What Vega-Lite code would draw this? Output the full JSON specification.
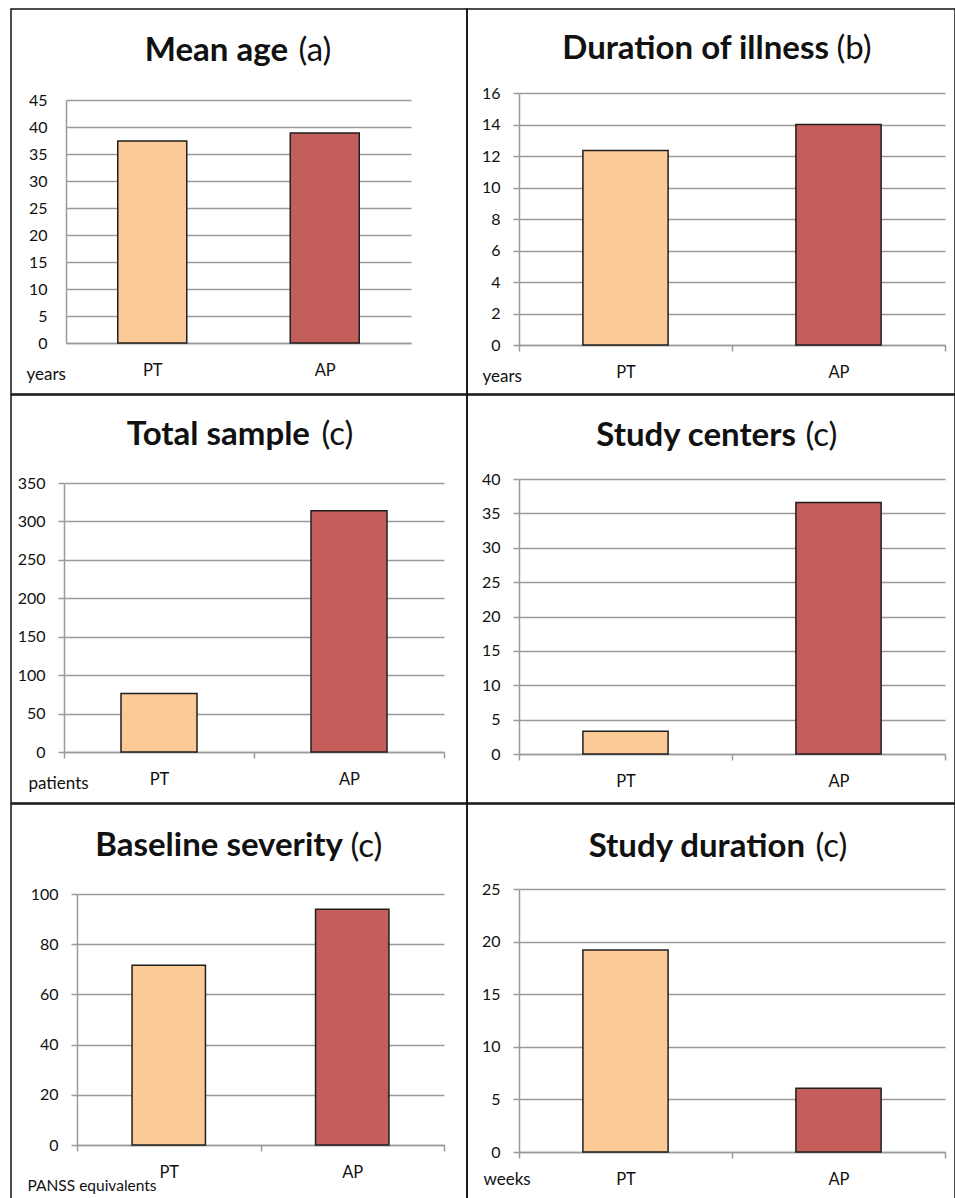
{
  "$schema": "https://vega.github.io/schema/vega-lite/v6.json",
  "padding": {"left": 10, "top": 8, "right": 0, "bottom": 0},
  "background": "white",
  "columns": 2,
  "align": "each",
  "spacing": {"row": 1, "column": 0},
  "bounds": "flush",
  "config": {
    "font": "Lato",
    "view": {"stroke": "#111", "strokeWidth": 1.5},
    "axis": {
      "domainColor": "#9a9a9a", "domainWidth": 1.5,
      "gridColor": "#9a9a9a", "gridWidth": 1.5,
      "tickColor": "#9a9a9a", "tickWidth": 1.5,
      "labelFont": "Lato", "labelFontSize": 16, "labelColor": "#111",
      "titleFont": "Lato", "titleFontSize": 17, "titleFontWeight": "normal", "titleColor": "#111",
      "titleAngle": 0, "titleAlign": "left", "titleBaseline": "alphabetic"
    },
    "axisX": {"grid": false, "tickBand": "extent", "labelAngle": 0, "tickSize": 6, "labelPadding": 13, "labelFontSize": 16.5},
    "axisY": {"grid": true, "tickSize": 6, "labelPadding": 13, "labelFontSize": 16, "titleFontSize": 33},
    "title": {"font": "Lato", "fontSize": 33, "fontWeight": "bold", "color": "#111", "anchor": "end", "frame": "group", "baseline": "top"},
    "bar": {"stroke": "#1f1f1f", "strokeWidth": 1.5}
  },
  "datasets": {
    "d": [
      {"panel": "age", "group": "PT", "value": 37.4},
      {"panel": "age", "group": "AP", "value": 38.9},
      {"panel": "illness", "group": "PT", "value": 12.35},
      {"panel": "illness", "group": "AP", "value": 14.0},
      {"panel": "sample", "group": "PT", "value": 76},
      {"panel": "sample", "group": "AP", "value": 314},
      {"panel": "centers", "group": "PT", "value": 3.3},
      {"panel": "centers", "group": "AP", "value": 36.6},
      {"panel": "severity", "group": "PT", "value": 71.6},
      {"panel": "severity", "group": "AP", "value": 93.9},
      {"panel": "duration", "group": "PT", "value": 19.2},
      {"panel": "duration", "group": "AP", "value": 6.05}
    ]
  },
  "concat": [
    {
      "width": 456, "height": 385,
      "data": {"name": "d"},
      "transform": [{"filter": "datum.panel == 'age'"}],
      "title": {"text": "Mean age", "dx": -179, "offset": -59},
      "mark": {"type": "bar", "width": {"band": 0.4}},
      "encoding": {
        "x": {"field": "group", "type": "nominal", "sort": ["PT", "AP"],
              "scale": {"range": [55, 400], "paddingInner": 0, "paddingOuter": 0},
              "axis": {"offset": -51, "tickSize": 0, "labelPadding": 19, "title": "years", "titleX": 15, "titleY": 36}},
        "y": {"field": "value", "type": "quantitative",
              "scale": {"domain": [0, 45], "range": [334, 91], "nice": false},
              "axis": {"offset": -55, "values": [0, 5, 10, 15, 20, 25, 30, 35, 40, 45], "tickSize": 0, "labelPadding": 19,
                       "title": "(a)", "titleX": 232, "titleY": 51}},
        "color": {"field": "group", "type": "nominal", "scale": {"domain": ["PT", "AP"], "range": ["#FBCA97", "#C45E5B"]}, "legend": null}
      }
    },
    {
      "width": 488, "height": 385,
      "data": {"name": "d"},
      "transform": [{"filter": "datum.panel == 'illness'"}],
      "title": {"text": "Duration of illness", "dx": -126, "offset": -57},
      "mark": {"type": "bar", "width": {"band": 0.4}},
      "encoding": {
        "x": {"field": "group", "type": "nominal", "sort": ["PT", "AP"],
              "scale": {"range": [52, 478], "paddingInner": 0, "paddingOuter": 0},
              "axis": {"offset": -49, "title": "years", "titleX": 15, "titleY": 36}},
        "y": {"field": "value", "type": "quantitative",
              "scale": {"domain": [0, 16], "range": [336, 84], "nice": false},
              "axis": {"offset": -52, "values": [0, 2, 4, 6, 8, 10, 12, 14, 16],
                       "title": "(b)", "titleX": 317, "titleY": 49}},
        "color": {"field": "group", "type": "nominal", "scale": {"domain": ["PT", "AP"], "range": ["#FBCA97", "#C45E5B"]}, "legend": null}
      }
    },
    {
      "width": 456, "height": 408,
      "data": {"name": "d"},
      "transform": [{"filter": "datum.panel == 'sample'"}],
      "title": {"text": "Total sample", "dx": -157, "offset": -57},
      "mark": {"type": "bar", "width": {"band": 0.4}},
      "encoding": {
        "x": {"field": "group", "type": "nominal", "sort": ["PT", "AP"],
              "scale": {"range": [53, 433], "paddingInner": 0, "paddingOuter": 0},
              "axis": {"offset": -51, "title": "patients", "titleX": 17, "titleY": 36}},
        "y": {"field": "value", "type": "quantitative",
              "scale": {"domain": [0, 350], "range": [357, 88], "nice": false},
              "axis": {"offset": -53, "values": [0, 50, 100, 150, 200, 250, 300, 350],
                       "title": "(c)", "titleX": 257, "titleY": 49}},
        "color": {"field": "group", "type": "nominal", "scale": {"domain": ["PT", "AP"], "range": ["#FBCA97", "#C45E5B"]}, "legend": null}
      }
    },
    {
      "width": 488, "height": 408,
      "data": {"name": "d"},
      "transform": [{"filter": "datum.panel == 'centers'"}],
      "title": {"text": "Study centers", "dx": -159, "offset": -58},
      "mark": {"type": "bar", "width": {"band": 0.4}},
      "encoding": {
        "x": {"field": "group", "type": "nominal", "sort": ["PT", "AP"],
              "scale": {"range": [52, 478], "paddingInner": 0, "paddingOuter": 0},
              "axis": {"offset": -49, "title": null}},
        "y": {"field": "value", "type": "quantitative",
              "scale": {"domain": [0, 40], "range": [359, 84], "nice": false},
              "axis": {"offset": -52, "values": [0, 5, 10, 15, 20, 25, 30, 35, 40],
                       "title": "(c)", "titleX": 286, "titleY": 50}},
        "color": {"field": "group", "type": "nominal", "scale": {"domain": ["PT", "AP"], "range": ["#FBCA97", "#C45E5B"]}, "legend": null}
      }
    },
    {
      "width": 456, "height": 400,
      "data": {"name": "d"},
      "transform": [{"filter": "datum.panel == 'severity'"}],
      "title": {"text": "Baseline severity", "dx": -124, "offset": -59},
      "mark": {"type": "bar", "width": {"band": 0.4}},
      "encoding": {
        "x": {"field": "group", "type": "nominal", "sort": ["PT", "AP"],
              "scale": {"range": [66, 433], "paddingInner": 0, "paddingOuter": 0},
              "axis": {"offset": -59, "title": "PANSS equivalents", "titleFontSize": 15.5, "titleX": 16, "titleY": 45}},
        "y": {"field": "value", "type": "quantitative",
              "scale": {"domain": [0, 100], "range": [341, 90], "nice": false},
              "axis": {"offset": -66, "values": [0, 20, 40, 60, 80, 100],
                       "title": "(c)", "titleX": 273, "titleY": 52}},
        "color": {"field": "group", "type": "nominal", "scale": {"domain": ["PT", "AP"], "range": ["#FBCA97", "#C45E5B"]}, "legend": null}
      }
    },
    {
      "width": 488, "height": 400,
      "data": {"name": "d"},
      "transform": [{"filter": "datum.panel == 'duration'"}],
      "title": {"text": "Study duration", "dx": -150, "offset": -60},
      "mark": {"type": "bar", "width": {"band": 0.4}},
      "encoding": {
        "x": {"field": "group", "type": "nominal", "sort": ["PT", "AP"],
              "scale": {"range": [52, 478], "paddingInner": 0, "paddingOuter": 0},
              "axis": {"offset": -52, "title": "weeks", "titleX": 16, "titleY": 32}},
        "y": {"field": "value", "type": "quantitative",
              "scale": {"domain": [0, 25], "range": [348, 85], "nice": false},
              "axis": {"offset": -52, "values": [0, 5, 10, 15, 20, 25],
                       "title": "(c)", "titleX": 296, "titleY": 52}},
        "color": {"field": "group", "type": "nominal", "scale": {"domain": ["PT", "AP"], "range": ["#FBCA97", "#C45E5B"]}, "legend": null}
      }
    }
  ]
}
